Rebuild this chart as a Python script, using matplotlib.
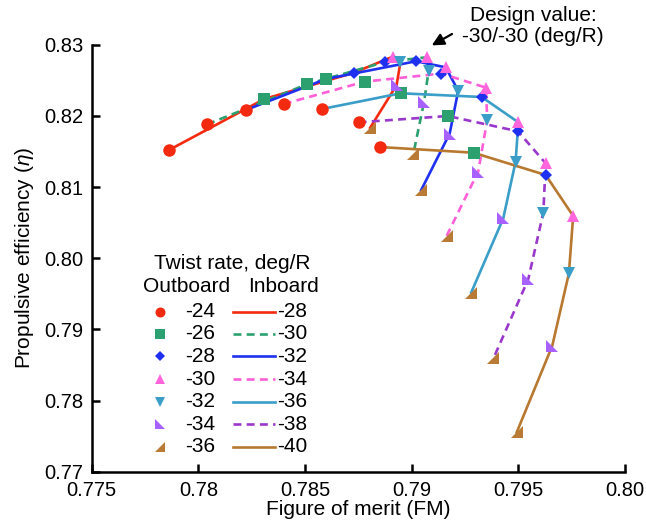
import matplotlib
matplotlib.use("Agg")
import matplotlib.pyplot as plt
from matplotlib.path import Path

plt.rcParams['font.family'] = ['Liberation Sans', 'DejaVu Sans']
plt.rcParams['mathtext.fontset'] = 'custom'
plt.rcParams['mathtext.it'] = 'Liberation Sans:italic'
plt.rcParams['mathtext.rm'] = 'Liberation Sans'

# Outboard twist rates (markers) and inboard twist rates (lines)
outboard = [-24, -26, -28, -30, -32, -34, -36]
inboard = [-28, -30, -32, -34, -36, -38, -40]

# FM values: rows = inboard twist, columns = outboard twist (-24 ... -36)
fm_in28 = [0.77862, 0.78309, 0.78729, 0.78911, 0.78947, 0.78929, 0.78805]
fm_in30 = [0.78041, 0.78508, 0.78875, 0.79070, 0.79079, 0.79058, 0.79008]
fm_in32 = [0.78222, 0.78598, 0.79020, 0.79159, 0.79218, 0.79178, 0.79044]
fm_in34 = [0.78400, 0.78779, 0.79139, 0.79348, 0.79354, 0.79312, 0.79164]
fm_in36 = [0.78579, 0.78948, 0.79328, 0.79500, 0.79487, 0.79429, 0.79279]
fm_in38 = [0.78751, 0.79169, 0.79498, 0.79628, 0.79617, 0.79546, 0.79383]
fm_in40 = [0.78851, 0.79290, 0.79628, 0.79757, 0.79737, 0.79659, 0.79492]

# Propulsive efficiency values, same layout
eta_in28 = [0.81520, 0.82237, 0.82606, 0.82831, 0.82750, 0.82431, 0.81832]
eta_in30 = [0.81881, 0.82443, 0.82757, 0.82823, 0.82630, 0.82197, 0.81471]
eta_in32 = [0.82082, 0.82518, 0.82767, 0.82682, 0.82353, 0.81752, 0.80955]
eta_in34 = [0.82167, 0.82480, 0.82595, 0.82396, 0.81942, 0.81218, 0.80315]
eta_in36 = [0.82096, 0.82317, 0.82265, 0.81909, 0.81356, 0.80558, 0.79518]
eta_in38 = [0.81909, 0.81998, 0.81783, 0.81333, 0.80639, 0.79701, 0.78591]
eta_in40 = [0.81562, 0.81482, 0.81169, 0.80593, 0.79788, 0.78769, 0.77551]

xticks = [0.775, 0.78, 0.785, 0.79, 0.795, 0.80]
xticklabels = ['0.775', '0.78', '0.785', '0.79', '0.795', '0.80']
yticks = [0.77, 0.78, 0.79, 0.80, 0.81, 0.82, 0.83]
yticklabels = ['0.77', '0.78', '0.79', '0.80', '0.81', '0.82', '0.83']

fm = [fm_in28, fm_in30, fm_in32, fm_in34, fm_in36, fm_in38, fm_in40]
eta = [eta_in28, eta_in30, eta_in32, eta_in34, eta_in36, eta_in38, eta_in40]

line_colors = ['#f42a10', '#2ca06e', '#1f30f0', '#ff5fd8', '#3a9ec8', '#9a38cc', '#b87830']
line_styles = ['-', (0, (3, 2)), '-', (0, (3, 2)), '-', (0, (3, 2)), '-']

tri_ll = Path([(-1, 1), (-1, -1), (1, -1), (-1, 1)],
              [Path.MOVETO, Path.LINETO, Path.LINETO, Path.CLOSEPOLY])
tri_lr = Path([(1, 1), (1, -1), (-1, -1), (1, 1)],
              [Path.MOVETO, Path.LINETO, Path.LINETO, Path.CLOSEPOLY])
mk_shapes = ['o', 's', 'D', '^', 'v', tri_ll, tri_lr]
mk_colors = ['#f42a10', '#2ca06e', '#1f30f0', '#ff66dd', '#3a9ec8', '#a860ff', '#b87a35']
mk_sizes = [9, 8.5, 6.5, 9, 9, 9, 9]

fig = plt.figure(figsize=(6.46, 5.25), dpi=100)
ax = fig.add_axes([0.1421, 0.1015, 0.8254, 0.8134])

for i in range(len(inboard)):
    ax.plot(fm[i], eta[i], color=line_colors[i], linestyle=line_styles[i],
            lw=1.9, zorder=2, clip_on=False)

for j in range(len(outboard)):
    xs = [fm[i][j] for i in range(len(inboard))]
    ys = [eta[i][j] for i in range(len(inboard))]
    ax.plot(xs, ys, linestyle='none', marker=mk_shapes[j], color=mk_colors[j],
            markersize=mk_sizes[j], markeredgewidth=0, zorder=3, clip_on=False)

ax.set_xlim(0.775, 0.80)
ax.set_ylim(0.77, 0.83)
ax.set_xticks(xticks)
ax.set_xticklabels(xticklabels)
ax.set_yticks(yticks)
ax.set_yticklabels(yticklabels)
ax.tick_params(direction='in', length=6, width=1.8, labelsize=14.5)
ax.tick_params(axis='x', pad=7)
ax.tick_params(axis='y', pad=6)
for s in ['top', 'right']:
    ax.spines[s].set_visible(False)
for s in ['left', 'bottom']:
    ax.spines[s].set_linewidth(1.8)

ax.set_xlabel('Figure of merit (FM)', fontsize=15, labelpad=0)
ax.set_ylabel(r'Propulsive efficiency ($\it{\eta}$)', fontsize=15, labelpad=6)

# Legend block
fs = 15
ax.text(0.2631, 0.488, 'Twist rate, deg/R', transform=ax.transAxes,
        ha='center', va='center', fontsize=fs)
ax.text(0.1771, 0.4333, 'Outboard', transform=ax.transAxes,
        ha='center', va='center', fontsize=fs)
ax.text(0.3595, 0.4333, 'Inboard', transform=ax.transAxes,
        ha='center', va='center', fontsize=fs)
row_y = [0.3747, 0.3225, 0.2698, 0.2171, 0.1644, 0.1117, 0.0590]
for k in range(len(outboard)):
    yk = row_y[k]
    ax.plot([0.1279], [yk], transform=ax.transAxes, linestyle='none',
            marker=mk_shapes[k], color=mk_colors[k], markersize=mk_sizes[k] * 0.8,
            markeredgewidth=0, clip_on=False)
    ax.text(0.2311, yk, str(outboard[k]), transform=ax.transAxes,
            ha='right', va='center', fontsize=fs)
    ax.plot([0.2643, 0.3437], [yk, yk], transform=ax.transAxes,
            color=line_colors[k], linestyle=line_styles[k], lw=1.9, clip_on=False)
    ax.text(0.3468, yk, str(inboard[k]), transform=ax.transAxes,
            ha='left', va='center', fontsize=fs)

# Design value annotation
ax.text(0.8275, 1.0443, 'Design value:\n-30/-30 (deg/R)', transform=ax.transAxes,
        ha='center', va='center', fontsize=15, linespacing=1.15)
ax.annotate('', xy=(0.79094, 0.82990), xytext=(0.79189, 0.83150),
            arrowprops=dict(arrowstyle='-|>', color='black', lw=1.6,
                            mutation_scale=18, shrinkA=0, shrinkB=0),
            annotation_clip=False)

fig.savefig('out.png', dpi=100)
